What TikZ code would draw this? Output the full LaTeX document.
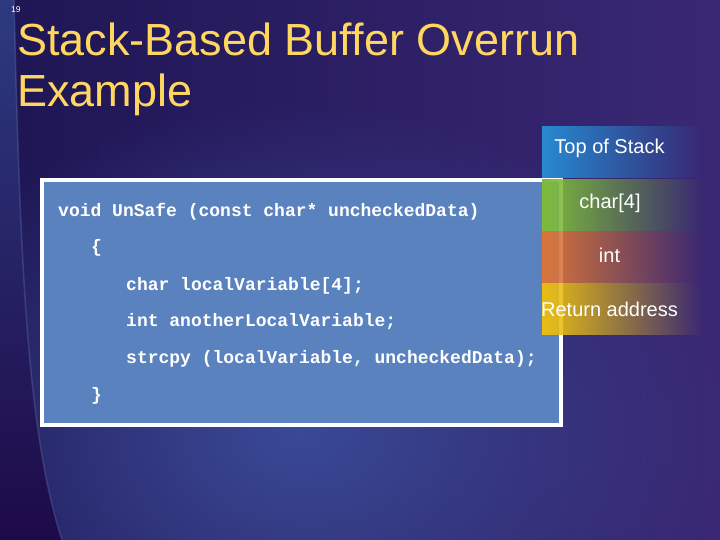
\documentclass[tikz,border=0pt]{standalone}
\usepackage{fontspec}
\setmainfont{Liberation Sans}
\newfontfamily\codefont{Liberation Mono}
\usetikzlibrary{%
  positioning,%
  fadings%
}

\definecolor{bgdark}{RGB}{30,22,84}
\definecolor{bgright}{RGB}{58,40,116}
\definecolor{bgglow}{RGB}{58,74,150}
\definecolor{bandcol}{RGB}{30,10,72}
\definecolor{bandtop}{RGB}{45,58,128}
\definecolor{titlecol}{RGB}{255,215,96}
\definecolor{codefill}{RGB}{90,130,190}
\definecolor{stacktop}{RGB}{40,138,210}
\definecolor{stackchar}{RGB}{126,186,60}
\definecolor{stackint}{RGB}{216,116,58}
\definecolor{stackret}{RGB}{234,188,18}

\tikzfading[name=cellfade, left color=transparent!0, right color=transparent!100]
\tikzfading[name=glowfade, inner color=transparent!0, outer color=transparent!100]

\tikzset{
  slidetitle/.style={anchor=base west, inner sep=0pt, text=titlecol, font=\fontsize{45}{45}\selectfont},
  codebox/.style={draw=white, line width=3.5pt, fill=codefill, minimum width=519pt, minimum height=245pt, inner sep=0pt},
  codeline/.style={anchor=base west, inner sep=0pt, text=white, font=\codefont\bfseries\fontsize{18}{18}\selectfont},
  stackcell/.style={minimum width=161pt, minimum height=52pt, inner sep=0pt, anchor=north west, path fading=cellfade},
  celltext/.style={anchor=base, inner sep=0pt, text=white, font=\fontsize{20}{20}\selectfont}
}

\begin{document}
\begin{tikzpicture}[x=1pt,y=-1pt]
  \useasboundingbox (0,0) rectangle (720,540);
  \shade[left color=bgdark, right color=bgright] (0,0) rectangle (720,540);
  \fill[bgglow, path fading=glowfade] (300,430) ellipse (430 and 330);
  \shade[top color=bandtop, middle color=bandcol, bottom color=bandcol] (0,0) -- (14,0) .. controls (20,250) and (26,430) .. (62,540) -- (0,540) -- cycle;
  \draw[bgglow!70!white, opacity=0.3, line width=1.5pt] (14,0) .. controls (20,250) and (26,430) .. (62,540);

  \node[slidetitle] (title1) at (17,56) {Stack-Based Buffer Overrun};
  \node[slidetitle] (title2) at (17,107) {Example};
  \node[anchor=base west, inner sep=0pt, text=white, font=\fontsize{8.5}{8.5}\selectfont] (slidenum) at (11,12.7) {19};

  \node[codebox] (code) at (301.7,302.4) {};
  \node[codeline] (sig) at (58,216) {void UnSafe (const char* uncheckedData)};
  \node[codeline] (open) at (91,252) {\{};
  \node[codeline] (decl1) at (126,290) {char localVariable[4];};
  \node[codeline] (decl2) at (126,326) {int anotherLocalVariable;};
  \node[codeline] (call) at (126,363) {strcpy (localVariable, uncheckedData);};
  \node[codeline] (close) at (91,400) {\}};

  \node[stackcell, fill=stacktop] (topcell) at (542,126) {};
  \node[stackcell, fill=stackchar, below=0pt of topcell] (charcell) {};
  \node[stackcell, fill=stackint, below=0pt of charcell] (intcell) {};
  \node[stackcell, fill=stackret, below=0pt of intcell] (retcell) {};
  \node[celltext] (toplabel) at (609.5,154) {Top of Stack};
  \node[celltext] (charlabel) at (610,208) {char[4]};
  \node[celltext] (intlabel) at (609.5,262) {int};
  \node[celltext] (retlabel) at (609.5,316) {Return address};
\end{tikzpicture}
\end{document}
